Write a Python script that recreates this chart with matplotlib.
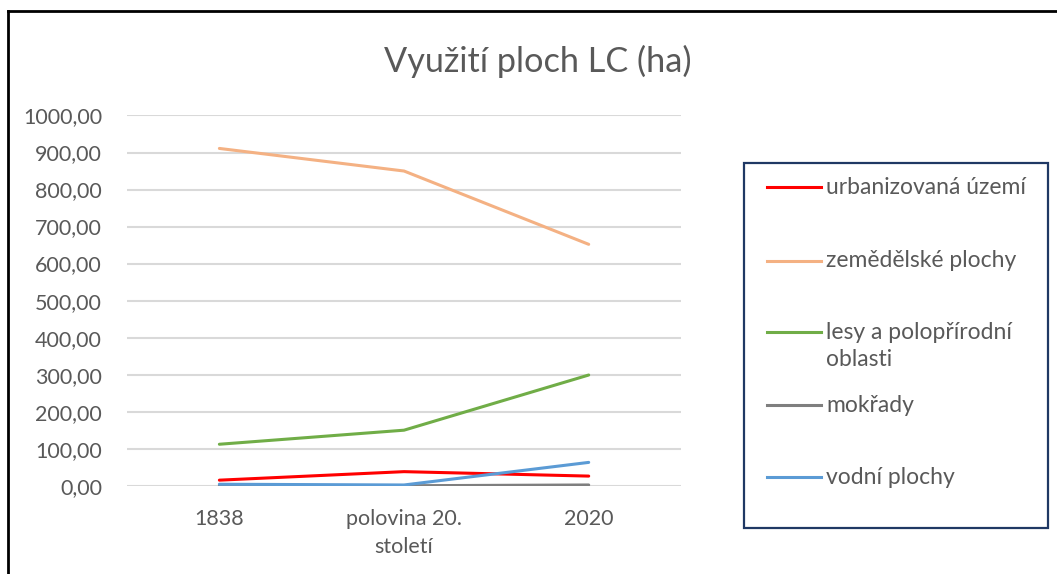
import matplotlib
matplotlib.use("Agg")
import matplotlib.pyplot as plt
from matplotlib.lines import Line2D
from matplotlib.patches import Rectangle

plt.rcParams["font.family"] = ["Lato", "DejaVu Sans"]

categories = ["1838", "polovina 20.\nstoletí", "2020"]
series_names = ["urbanizovaná území", "zemědělské plochy",
                "lesy a polopřírodní\noblasti", "mokřady", "vodní plochy"]
urbanizovana = [15, 38, 26]
zemedelske = [911, 850, 652]
lesy = [112, 150, 299]
mokrady = [0, 0, 2]
vodni = [4, 2, 63]
values = [urbanizovana, zemedelske, lesy, mokrady, vodni]
colors = ["#ff0000", "#f4b183", "#70ad47", "#7f7f7f", "#5b9bd5"]
yticks = list(range(0, 1001, 100))

TXT = "#595959"

fig = plt.figure(figsize=(10.57, 5.74), dpi=100)
ax = fig.add_axes([0.1202, 0.1538, 0.5241, 0.6450])

x = list(range(len(categories)))
for name, vals, col in zip(series_names, values, colors):
    ax.plot(x, vals, color=col, lw=2.2, solid_capstyle="round", zorder=3)

ax.set_xlim(-0.5, len(categories) - 0.5)
ax.set_ylim(0, 1000)
ax.set_yticks(yticks)
ax.set_yticklabels([f"{v},00" for v in yticks], fontsize=15.5, color=TXT)
ax.set_xticks(x)
ax.set_xticklabels(categories, fontsize=15.5, color=TXT, linespacing=1.45)
ax.tick_params(axis="x", length=0, pad=17)
ax.tick_params(axis="y", length=0, pad=18)
ax.grid(axis="y", color="#d9d9d9", lw=1.5, zorder=0)
for s in ax.spines.values():
    s.set_visible(False)

fig.text(0.5085, 0.893, "Využití ploch LC (ha)", ha="center", va="center",
         fontsize=24.7, color=TXT)

# outer chart border (left and top edges visible)
fig.add_artist(Line2D([8 / 1057, 8 / 1057], [0, 1 - 11 / 574], color="black",
                      lw=2, transform=fig.transFigure))
fig.add_artist(Line2D([8 / 1057, 1], [1 - 11 / 574, 1 - 11 / 574], color="black",
                      lw=2, transform=fig.transFigure))

# legend box
fig.add_artist(Rectangle((744 / 1057, 1 - 528 / 574), (1048 - 744) / 1057,
                         (528 - 163) / 574, fill=False, edgecolor="#1f3864",
                         lw=1.6, transform=fig.transFigure))
legend_y = [187, 261, 332, 405, 477]
for name, col, yy in zip(series_names, colors, legend_y):
    yf = 1 - yy / 574
    fig.add_artist(Line2D([767 / 1057, 821 / 1057], [yf, yf], color=col, lw=2.2,
                          transform=fig.transFigure))
    ty = 1 - (yy + 14) / 574 if "\n" in name else yf
    fig.text(826 / 1057, ty, name, ha="left", va="center",
             fontsize=16.5, color=TXT, linespacing=1.3,
             transform=fig.transFigure)

fig.savefig("out.png", dpi=100)
